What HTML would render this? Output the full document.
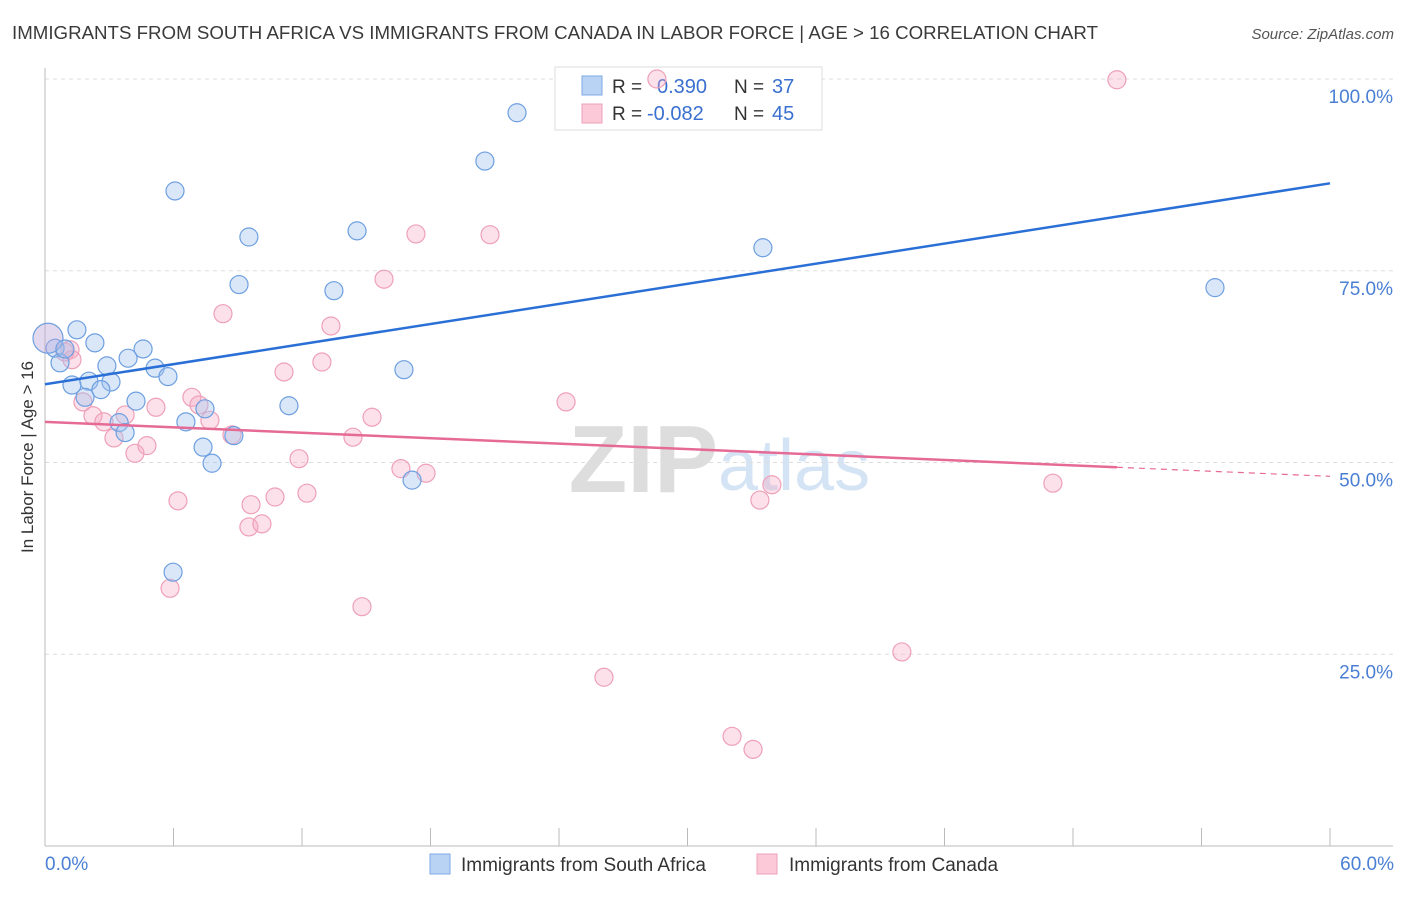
<!DOCTYPE html>
<html><head><meta charset="utf-8"><style>
body{margin:0;background:#fff;font-family:"Liberation Sans",sans-serif;}
svg text{font-family:"Liberation Sans",sans-serif;}
</style></head><body>
<svg id="chart" width="1406" height="892" viewBox="0 0 1406 892">
<text x="12" y="39" font-size="18" fill="#3a3a3a" textLength="1086" lengthAdjust="spacingAndGlyphs">IMMIGRANTS FROM SOUTH AFRICA VS IMMIGRANTS FROM CANADA IN LABOR FORCE | AGE &gt; 16 CORRELATION CHART</text>
<text x="1394" y="39" font-size="15" fill="#555" font-style="italic" text-anchor="end">Source: ZipAtlas.com</text>
<text x="718" y="492" font-size="96" font-family="Liberation Serif" fill="#ddd" text-anchor="end" font-weight="bold">ZIP</text>
<text x="718" y="490" font-size="72" fill="#d5e4f5">atlas</text>
<g id="grid"></g>
<g id="axes"></g>
<g>
<rect x="555" y="67" width="267" height="63" fill="#fff" stroke="#ddd"/>
<rect x="582" y="76" width="20" height="19" fill="#b9d3f5" stroke="#7ea9e6"/>
<rect x="582" y="104" width="20" height="19" fill="#fbc9d8" stroke="#eea0b8"/>
<text x="612" y="93" font-size="19" fill="#333">R =</text>
<text x="657" y="93" font-size="20" fill="#3a70cf">0.390</text>
<text x="734" y="93" font-size="19" fill="#333">N =</text>
<text x="772" y="93" font-size="20" fill="#3a70cf">37</text>
<text x="612" y="120" font-size="19" fill="#333">R =</text>
<text x="647" y="120" font-size="20" fill="#3a70cf">-0.082</text>
<text x="734" y="120" font-size="19" fill="#333">N =</text>
<text x="772" y="120" font-size="20" fill="#3a70cf">45</text>
</g>
<g id="marks"></g>
<text transform="translate(33,457) rotate(-90)" font-size="17" fill="#333" text-anchor="middle">In Labor Force | Age &gt; 16</text>
<text x="45" y="870" font-size="19" fill="#4a7fd4">0.0%</text>
<text x="1394" y="870" font-size="19" fill="#4a7fd4" text-anchor="end">60.0%</text>
<g>
<rect x="430" y="854" width="20" height="20" fill="#b9d3f5" stroke="#7ea9e6"/>
<text x="461" y="871" font-size="19" fill="#333">Immigrants from South Africa</text>
<rect x="757" y="854" width="20" height="20" fill="#fbc9d8" stroke="#eea0b8"/>
<text x="789" y="871" font-size="19" fill="#333">Immigrants from Canada</text>
</g>
</svg>
<script>
const yTicks=[25,50,75,100];
const yTickLabels=["25.0%","50.0%","75.0%","100.0%"];
const xTicks=[0,6,12,18,24,30,36,42,48,54,60];
const blueX=[22.04,20.54,6.07,9.52,14.57,33.52,9.06,13.49,54.63,1.49,2.33,0.47,0.70,4.58,3.88,2.89,5.14,5.74,1.26,2.05,3.08,2.61,1.87,4.25,7.47,11.39,16.76,6.58,3.46,3.74,7.38,8.82,7.80,17.14,5.98,0.14,0.93];
const blueY=[95.6,89.3,85.4,79.4,80.2,78.0,73.2,72.4,72.8,67.3,65.6,64.9,63.0,64.8,63.6,62.6,62.3,61.2,60.1,60.6,60.5,59.5,58.5,58.0,57.0,57.4,62.1,55.3,55.2,53.9,52.0,53.5,49.9,47.7,35.7,66.2,64.8];
const pinkX=[28.57,50.05,17.32,20.78,15.83,8.31,13.35,11.16,12.93,1.17,0.93,1.26,1.77,2.24,2.75,3.74,3.22,4.20,4.76,5.18,6.86,7.19,7.70,8.73,15.27,14.38,11.86,16.62,17.79,24.33,33.94,33.38,47.06,12.23,10.74,9.62,9.52,10.13,6.21,5.84,14.80,40.01,26.10,32.08,33.06];
const pinkY=[100.0,99.9,79.8,79.7,73.9,69.4,67.8,61.8,63.1,64.7,64.4,63.4,57.9,56.1,55.3,56.2,53.2,51.2,52.2,57.2,58.5,57.5,55.5,53.6,55.9,53.3,50.5,49.2,48.6,57.9,47.1,45.1,47.3,46.0,45.5,44.5,41.6,42.0,45.0,33.6,31.2,25.3,22.0,14.3,12.6];
const blueTrend=[60.2,86.4];
const pinkTrend=[55.3,48.2];
const pinkSolidEnd=50.05;

const NS="http://www.w3.org/2000/svg";
const sx=v=>45+v/60*1285;
const sy=v=>846-v/100*767;
function mk(tag,attrs,parent){const e=document.createElementNS(NS,tag);for(const k in attrs)e.setAttribute(k,attrs[k]);document.getElementById(parent).appendChild(e);return e;}
yTicks.forEach((t,i)=>{
  const l=mk('line',{x1:45,x2:1393,y1:sy(t),y2:sy(t),stroke:'#ddd','stroke-dasharray':'4,4'},'grid');
  
  
  const tx=mk('text',{x:1393,y:sy(t)+24,'font-size':19,fill:'#4a7fd4','text-anchor':'end'},'grid');
  tx.textContent=yTickLabels[i];
  
  
});
const ya=mk('line',{x1:45,x2:45,y1:68,y2:846,stroke:'#bbb'},'axes');


const xa=mk('line',{x1:45,x2:1393,y1:846,y2:846,stroke:'#bbb'},'axes');


xTicks.forEach(t=>{
  const l=mk('line',{x1:sx(t),x2:sx(t),y1:828,y2:846,stroke:'#bbb'},'axes');
  
  
});
function dots(X,Y,fill,stroke,name){
  X.forEach((x,i)=>{
    const big=(x<0.3);
    const c=mk('circle',{cx:sx(x),cy:sy(Y[i]),r:big?15:9,fill:big?'rgba(190,170,220,0.45)':fill,stroke:stroke,'stroke-width':1.2},'marks');
    
    
  });
}
dots(pinkX,pinkY,'rgba(246,170,195,0.35)','#eea0b8','canada-point');
dots(blueX,blueY,'rgba(160,196,240,0.4)','#6e9fe0','south-africa-point');
const bl=mk('line',{x1:sx(0),y1:sy(blueTrend[0]),x2:sx(60),y2:sy(blueTrend[1]),stroke:'#2a6fd6','stroke-width':2.5},'marks');


const pEnd=pinkTrend[0]+(pinkTrend[1]-pinkTrend[0])*pinkSolidEnd/60;
const pl=mk('line',{x1:sx(0),y1:sy(pinkTrend[0]),x2:sx(pinkSolidEnd),y2:sy(pEnd),stroke:'#e66a96','stroke-width':2.5},'marks');


const pd=mk('line',{x1:sx(pinkSolidEnd),y1:sy(pEnd),x2:sx(60),y2:sy(pinkTrend[1]),stroke:'#e66a96','stroke-width':1.2,'stroke-dasharray':'6,5'},'marks');


</script>
</body></html>
